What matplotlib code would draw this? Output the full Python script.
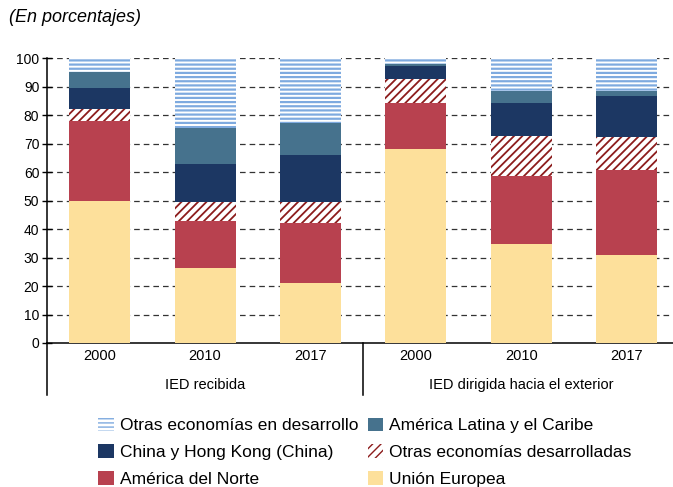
import matplotlib
matplotlib.use("Agg")
import matplotlib.pyplot as plt
import numpy as np

plt.rcParams['font.family'] = ['Liberation Sans', 'DejaVu Sans']

years = ["2000", "2010", "2017", "2000", "2010", "2017"]
groups = ["IED recibida", "IED dirigida hacia el exterior"]

# stacked shares (percent), bottom to top
union_europea = [50.0, 26.5, 21.1, 68.2, 34.9, 31.0]
america_norte = [28.0, 16.2, 20.9, 16.1, 23.6, 29.9]
otras_desarrolladas = [4.2, 6.7, 7.4, 8.4, 14.2, 11.4]
china_hk = [7.2, 13.3, 16.6, 4.7, 11.7, 14.6]
america_latina = [5.8, 12.7, 11.4, 0.5, 4.1, 1.6]
otras_desarrollo = [4.8, 24.6, 22.6, 2.1, 11.5, 11.5]

labels = ["Unión Europea", "América del Norte", "Otras economías desarrolladas",
          "China y Hong Kong (China)", "América Latina y el Caribe",
          "Otras economías en desarrollo"]

fig = plt.figure(figsize=(6.73, 4.87), dpi=100)
ax = fig.add_axes([47/673, 144/487, 1 - 47/673, 284.7/487])

x = np.arange(len(years))
w = 0.58
bottom = np.zeros(len(years))

series = [union_europea, america_norte, otras_desarrolladas, china_hk,
          america_latina, otras_desarrollo]
styles = [
    dict(color="#fde09b", edgecolor="#fde09b", linewidth=0),
    dict(color="#b8414f", edgecolor="#b8414f", linewidth=0),
    dict(facecolor="white", edgecolor="#8c1c1c", hatch="////", linewidth=0),
    dict(color="#1c3763", edgecolor="#1c3763", linewidth=0),
    dict(color="#46728d", edgecolor="#46728d", linewidth=0),
    dict(facecolor="white", edgecolor="#7eaadf", hatch="----", linewidth=0),
]
hatch_lw = [1.0, 1.0, 1.3, 1.0, 1.0, 1.6]
for vals, st, lab, hl in zip(series, styles, labels, hatch_lw):
    v = np.array(vals)
    with plt.rc_context({'hatch.linewidth': hl}):
        ax.bar(x, v, w, bottom=bottom, label=lab, zorder=3, **st)
    bottom += v

ax.set_xlim(-0.5, 5.44)
ax.set_ylim(0, 100)
ax.set_yticks(np.arange(0, 101, 10))
ax.tick_params(axis='y', direction='inout', length=7, width=1, labelsize=10, pad=2)
ax.set_xticks([])
for s in ["top", "right"]:
    ax.spines[s].set_visible(False)
ax.spines["left"].set_linewidth(1.1)
ax.spines["bottom"].set_linewidth(1.1)
for yv in range(10, 101, 10):
    ax.axhline(yv, color="#333333", lw=0.9, dashes=(4.5, 3.2), zorder=1)

trans = ax.get_xaxis_transform()
for xi, yr in zip(x, years):
    ax.text(xi, -0.047, yr, transform=trans, ha="center", va="center", fontsize=10.5)
ax.text(1, -0.148, groups[0], transform=trans, ha="center", va="center", fontsize=10.5)
ax.text(4, -0.148, groups[1], transform=trans, ha="center", va="center", fontsize=10.5)
for xs in [-0.5, 2.5]:
    ax.plot([xs, xs], [0, -0.183], transform=trans, color="black", lw=1.1, clip_on=False)

fig.text(9/673, 1 - 18/487, "(En porcentajes)", fontsize=13, style="italic",
         ha="left", va="center")

h, l = ax.get_legend_handles_labels()
order = [5, 3, 1, 4, 2, 0]
leg = fig.legend([h[i] for i in order], [l[i] for i in order], ncol=2,
                 loc="upper left", bbox_to_anchor=(98/673, 1 - 417.5/487),
                 frameon=False, fontsize=12.5, handlelength=0.9, handleheight=0.85,
                 handletextpad=0.35, columnspacing=0.55, labelspacing=0.62,
                 borderpad=0, borderaxespad=0)

fig.savefig("out.png", dpi=100)
